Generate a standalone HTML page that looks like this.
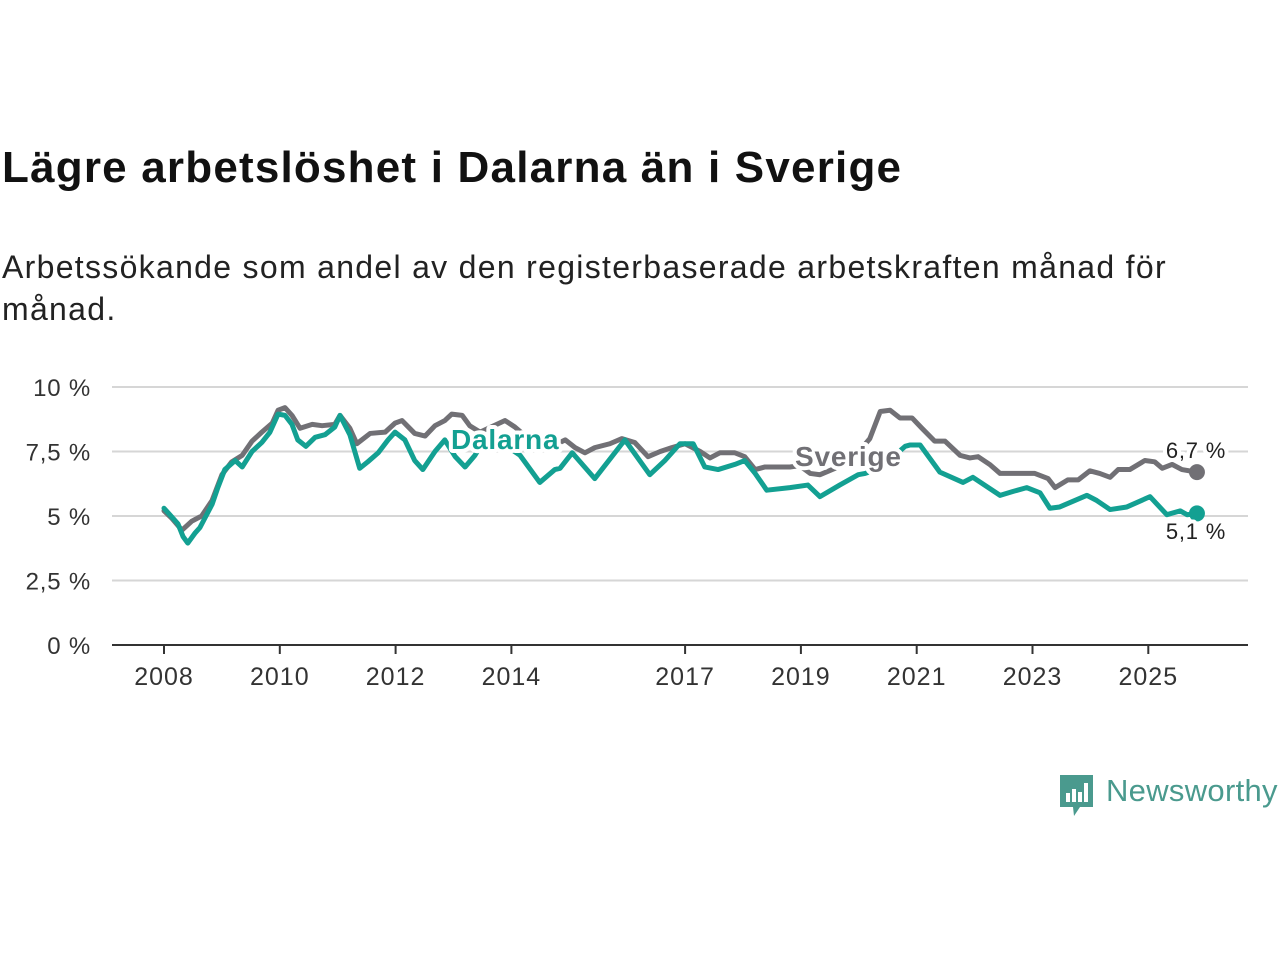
<!DOCTYPE html>
<html><head><meta charset="utf-8">
<style>
body{margin:0;width:1280px;height:960px;background:#fff;overflow:hidden;font-family:"Liberation Sans",sans-serif;}
#title{position:absolute;left:2px;top:143px;font-size:44px;letter-spacing:1.2px;font-weight:bold;color:#111;margin:0;}
#sub{position:absolute;left:2px;top:246px;font-size:32px;letter-spacing:1.3px;line-height:42px;color:#222;width:1200px;}
svg{position:absolute;left:0;top:0;}
</style></head><body>
<h1 id="title">Lägre arbetslöshet i Dalarna än i Sverige</h1>
<div id="sub">Arbetssökande som andel av den registerbaserade arbetskraften månad för månad.</div>
<svg id="chart" width="1280" height="960"></svg>
<script>
const yTicks=[0,2.5,5,7.5,10];
const yTickLabels=["0 %","2,5 %","5 %","7,5 %","10 %"];
const xTicks=[2008,2010,2012,2014,2017,2019,2021,2023,2025];
const sverigeDates=[2008,2008.14,2008.31,2008.48,2008.65,2008.83,2009,2009.17,2009.35,2009.52,2009.69,2009.87,2009.97,2010.09,2010.21,2010.35,2010.56,2010.73,2010.95,2011.04,2011.21,2011.33,2011.56,2011.82,2011.99,2012.11,2012.33,2012.51,2012.68,2012.85,2012.97,2013.15,2013.28,2013.46,2013.89,2014.06,2014.32,2014.49,2014.75,2014.93,2015.1,2015.27,2015.44,2015.7,2015.91,2016.13,2016.36,2016.57,2016.77,2017,2017.26,2017.43,2017.6,2017.86,2018.03,2018.21,2018.38,2018.81,2018.98,2019.16,2019.33,2019.59,2019.93,2020.19,2020.37,2020.54,2020.71,2020.92,2021.09,2021.31,2021.49,2021.75,2021.92,2022.06,2022.26,2022.44,2022.64,2023.04,2023.27,2023.39,2023.61,2023.79,2023.99,2024.16,2024.34,2024.48,2024.68,2024.94,2025.11,2025.24,2025.41,2025.58,2025.84];
const sverigeValues=[5.2,4.9,4.45,4.8,5.0,5.6,6.6,7.1,7.35,7.9,8.25,8.6,9.1,9.2,8.9,8.4,8.55,8.5,8.55,8.9,8.4,7.8,8.2,8.25,8.6,8.7,8.2,8.1,8.5,8.7,8.95,8.9,8.5,8.25,8.7,8.45,7.95,7.65,7.75,7.95,7.65,7.45,7.65,7.8,8.0,7.85,7.3,7.5,7.65,7.8,7.5,7.25,7.45,7.45,7.3,6.8,6.9,6.9,6.95,6.65,6.6,6.85,7.3,8.0,9.05,9.1,8.8,8.8,8.4,7.9,7.9,7.35,7.25,7.3,7.0,6.65,6.65,6.65,6.45,6.1,6.4,6.4,6.75,6.65,6.5,6.8,6.8,7.15,7.1,6.85,7.0,6.8,6.7];
const dalarnaDates=[2008,2008.1,2008.24,2008.33,2008.41,2008.54,2008.62,2008.76,2008.83,2008.93,2009.05,2009.23,2009.35,2009.52,2009.69,2009.83,2009.97,2010.09,2010.21,2010.31,2010.45,2010.61,2010.78,2010.95,2011.04,2011.21,2011.38,2011.52,2011.7,2011.87,2011.99,2012.16,2012.33,2012.47,2012.68,2012.85,2013.03,2013.2,2013.37,2013.49,2013.63,2013.89,2014.15,2014.49,2014.75,2014.84,2015.05,2015.44,2015.96,2016.39,2016.65,2016.91,2017.14,2017.34,2017.57,2017.86,2018.03,2018.21,2018.41,2018.81,2019.12,2019.33,2019.67,2019.99,2020.11,2020.37,2020.62,2020.8,2020.88,2021.06,2021.4,2021.8,2021.97,2022.44,2022.66,2022.9,2023.13,2023.3,2023.47,2023.94,2024.11,2024.34,2024.63,2025.03,2025.32,2025.55,2025.67,2025.84];
const dalarnaValues=[5.3,5.05,4.7,4.2,3.95,4.35,4.55,5.15,5.45,6.1,6.8,7.15,6.9,7.5,7.85,8.25,8.95,8.9,8.55,7.95,7.7,8.05,8.15,8.45,8.9,8.15,6.85,7.1,7.45,7.95,8.25,7.95,7.15,6.8,7.5,7.95,7.3,6.9,7.35,7.8,7.6,7.75,7.35,6.3,6.8,6.85,7.45,6.45,7.95,6.6,7.15,7.8,7.8,6.9,6.8,7.0,7.15,6.65,6.0,6.1,6.2,5.75,6.2,6.6,6.65,6.85,7.35,7.7,7.75,7.75,6.7,6.3,6.5,5.8,5.95,6.1,5.9,5.3,5.35,5.8,5.6,5.25,5.35,5.75,5.05,5.2,5.05,5.1];

const NS="http://www.w3.org/2000/svg";
const svg=document.getElementById('chart');
const X0=112,X1=1248;
const xs=d=>164+(d-2008)*57.9;
const ys=v=>645-v*25.8;
function mk(t,a){const e=document.createElementNS(NS,t);for(const k in a)e.setAttribute(k,a[k]);svg.appendChild(e);return e;}
yTicks.forEach((v,i)=>{
  if(v>0){const g=mk('line',{x1:X0,x2:X1,y1:ys(v),y2:ys(v),stroke:'#d6d6d6','stroke-width':2});
  
  }
  const t=mk('text',{x:91,y:ys(v)+9,'text-anchor':'end','font-size':24,'letter-spacing':0.8,fill:'#333'});
  t.textContent=yTickLabels[i];
  
  
});
const ax=mk('line',{x1:X0,x2:X1,y1:645,y2:645,stroke:'#333','stroke-width':2});


xTicks.forEach(yr=>{
  const tk=mk('line',{x1:xs(yr),x2:xs(yr),y1:645,y2:654,stroke:'#333','stroke-width':2});
  
  
  const t=mk('text',{x:xs(yr),y:685,'text-anchor':'middle','font-size':25,'letter-spacing':1,fill:'#333'});
  t.textContent=yr;
  
  
});
function line(dates,vals,col,name){
  const p=mk('polyline',{points:dates.map((d,i)=>xs(d)+','+ys(vals[i])).join(' '),fill:'none',stroke:col,'stroke-width':5,'stroke-linejoin':'round','stroke-linecap':'round'});
  
  
  const n=dates.length-1;
  const c=mk('circle',{cx:xs(dates[n]),cy:ys(vals[n]),r:8,fill:col});
  
  
}
line(sverigeDates,sverigeValues,'#717075','sverige-line');
line(dalarnaDates,dalarnaValues,'#13a092','dalarna-line');
function lab(txt,x,y,col,size,bold,name,anchor){
  const t=mk('text',{x:x,y:y,'font-size':size,'letter-spacing':0.8,'font-weight':bold?'bold':'normal',fill:col,stroke:'#fff','stroke-width':8,'paint-order':'stroke','stroke-linejoin':'round','text-anchor':anchor||'start'});
  t.textContent=txt;
  
  
}
lab('Dalarna',451,449,'#13a092',28,true,'dalarna-label');
lab('Sverige',795,466,'#717075',28,true,'sverige-label');
const n1=sverigeValues.length-1,n2=dalarnaValues.length-1;
lab(String(sverigeValues[n1]).replace('.',',')+' %',1196,458,'#222',22,false,'sverige-end-value','middle');
lab(String(dalarnaValues[n2]).replace('.',',')+' %',1196,539,'#222',22,false,'dalarna-end-value','middle');
</script>
<div style="position:absolute;left:1060px;top:775px;height:40px;">
  <svg width="34" height="42" style="position:absolute;left:0;top:0">
    <path d="M0 0H33V32H20L14 41L13 32H0Z" fill="#4a9a8e"/>
    <rect x="6" y="18" width="4" height="9" fill="#fff"/><rect x="12" y="14" width="4" height="13" fill="#fff"/><rect x="18" y="17" width="4" height="10" fill="#fff"/><rect x="24" y="8" width="4" height="19" fill="#fff"/>
  </svg>
  <span style="position:absolute;left:46px;top:-2px;font-size:31px;letter-spacing:0.3px;color:#4a9a8e;white-space:nowrap">Newsworthy</span>
</div>
</body></html>
